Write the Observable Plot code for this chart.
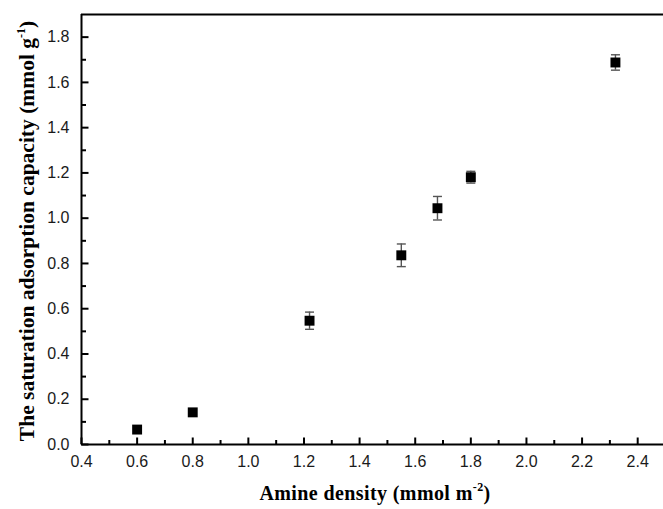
<!DOCTYPE html>
<html>
<head>
<meta charset="utf-8">
<script src="https://cdn.jsdelivr.net/npm/d3@7"></script>
<script src="https://cdn.jsdelivr.net/npm/@observablehq/plot@0.6"></script>
<style>
  html, body { margin: 0; padding: 0; background: #fff; }
  #chart svg { display: block; }
</style>
</head>
<body>
<div id="chart"></div>
<script>
// Data
const amineDensity = [0.60, 0.80, 1.22, 1.55, 1.68, 1.80, 2.32];
const capacity     = [0.066, 0.142, 0.547, 0.836, 1.044, 1.181, 1.688];
const capacityErr  = [0.0, 0.0, 0.038, 0.05, 0.052, 0.026, 0.034];

const xMajorTicks = [0.4, 0.6, 0.8, 1.0, 1.2, 1.4, 1.6, 1.8, 2.0, 2.2, 2.4];
const xMinorTicks = [0.5, 0.7, 0.9, 1.1, 1.3, 1.5, 1.7, 1.9, 2.1, 2.3];
const yMajorTicks = [0.0, 0.2, 0.4, 0.6, 0.8, 1.0, 1.2, 1.4, 1.6, 1.8];
const yMinorTicks = [0.1, 0.3, 0.5, 0.7, 0.9, 1.1, 1.3, 1.5, 1.7];

const xDomain = [0.4, 2.5];
const yDomain = [0, 1.9];

const data = amineDensity.map((x, i) => ({x, y: capacity[i], e: capacityErr[i]}));
const withErr = data.filter(d => d.e > 0);

// simple line symbols (pixel styling only)
const capSymbol = {draw(c) { c.moveTo(-4.5, 0); c.lineTo(4.5, 0); }};
const tickUpMajor = {draw(c) { c.moveTo(0, 0); c.lineTo(0, -7); }};
const tickUpMinor = {draw(c) { c.moveTo(0, 0); c.lineTo(0, -4.5); }};
const tickRightMajor = {draw(c) { c.moveTo(0, 0); c.lineTo(7, 0); }};
const tickRightMinor = {draw(c) { c.moveTo(0, 0); c.lineTo(4.5, 0); }};

const W = 663, H = 509;
const mL = 81, mT = 14, mB = 65;
const sans = "Liberation Sans, Arial, sans-serif";

const plot = Plot.plot({
  width: W,
  height: H,
  marginLeft: mL,
  marginTop: mT,
  marginBottom: mB,
  marginRight: 0,
  style: {background: "#fff", color: "#000", overflow: "hidden"},
  x: {domain: xDomain, range: [mL, 665]},
  y: {domain: yDomain},
  marks: [
    // tick labels
    Plot.axisX({ticks: xMajorTicks, anchor: "bottom", tickSize: 0, tickPadding: 11, tickFormat: d3.format(".1f"),
      fontSize: 16, fontFamily: sans, label: null, fill: "#1a1a1a"}),
    Plot.axisY({ticks: yMajorTicks, anchor: "left", tickSize: 0, tickPadding: 12, tickFormat: d3.format(".1f"),
      fontSize: 16, fontFamily: sans, label: null, fill: "#1a1a1a"}),
    // frame lines
    Plot.ruleY([yDomain[0]], {stroke: "#000", strokeWidth: 2}),
    Plot.ruleY([yDomain[1]], {stroke: "#000", strokeWidth: 2}),
    Plot.ruleX([xDomain[0]], {stroke: "#000", strokeWidth: 2}),
    Plot.ruleX([xDomain[1]], {stroke: "#000", strokeWidth: 2}),
    // error bars
    Plot.ruleX(withErr, {x: "x", y1: d => d.y - d.e, y2: d => d.y + d.e, stroke: "#555", strokeWidth: 1.4}),
    Plot.dot(withErr, {x: "x", y: d => d.y + d.e, symbol: capSymbol, stroke: "#555", strokeWidth: 1.4}),
    Plot.dot(withErr, {x: "x", y: d => d.y - d.e, symbol: capSymbol, stroke: "#555", strokeWidth: 1.4}),
    // points
    Plot.dot(data, {x: "x", y: "y", symbol: "square", r: 5.6, fill: "#000", stroke: "none"}),
    // inward ticks (drawn last)
    Plot.dot(xMajorTicks, {x: d => d, y: yDomain[0], symbol: tickUpMajor, stroke: "#000", strokeWidth: 2}),
    Plot.dot(xMinorTicks, {x: d => d, y: yDomain[0], symbol: tickUpMinor, stroke: "#000", strokeWidth: 2}),
    Plot.dot(yMajorTicks, {y: d => d, x: xDomain[0], symbol: tickRightMajor, stroke: "#000", strokeWidth: 2}),
    Plot.dot(yMinorTicks, {y: d => d, x: xDomain[0], symbol: tickRightMinor, stroke: "#000", strokeWidth: 2})
  ]
});

const svg = d3.select(plot);
const serif = "Liberation Serif, Times New Roman, serif";

// X axis title
const xt = svg.append("text")
  .attr("x", 375).attr("y", 500)
  .attr("text-anchor", "middle")
  .attr("font-family", serif).attr("font-weight", "bold").attr("font-size", 20)
  .attr("letter-spacing", 0.4)
  .attr("fill", "#000");
xt.append("tspan").text("Amine density (mmol m");
xt.append("tspan").attr("dy", -9).attr("font-size", 12).text("-2");
xt.append("tspan").attr("dy", 9).text(")");

// Y axis title
const yt = svg.append("text")
  .attr("transform", "translate(34,231) rotate(-90)")
  .attr("text-anchor", "middle")
  .attr("font-family", serif).attr("font-weight", "bold").attr("font-size", 21.5)
  .attr("fill", "#000");
yt.append("tspan").text("The saturation adsorption capacity (mmol g");
yt.append("tspan").attr("dy", -9).attr("font-size", 12).text("-1");
yt.append("tspan").attr("dy", 9).text(")");

document.getElementById("chart").appendChild(plot);
</script>
</body>
</html>
